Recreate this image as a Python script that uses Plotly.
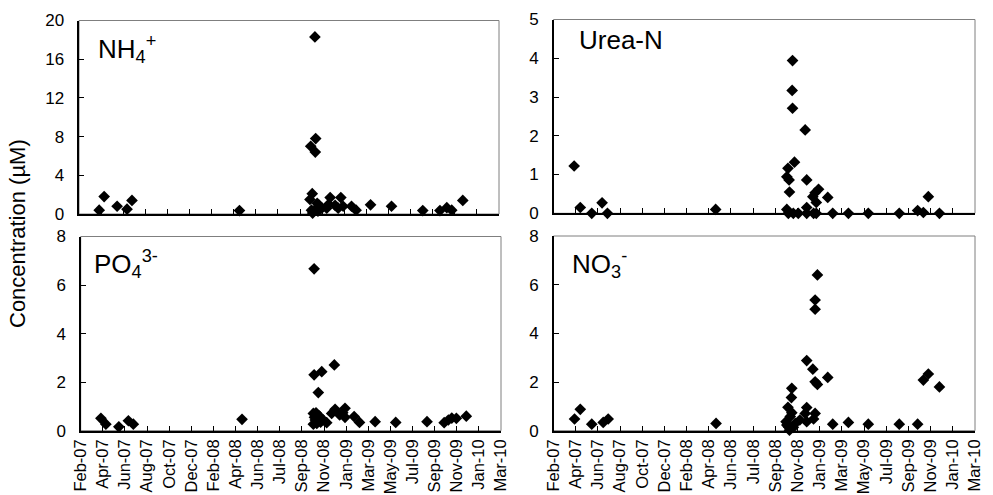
import plotly.graph_objects as go
import pandas as pd

# ---------------- data ----------------
TICK_LABELS = ["Feb-07", "Apr-07", "Jun-07", "Aug-07", "Oct-07", "Dec-07", "Feb-08",
               "Apr-08", "Jun-08", "Jul-08", "Sep-08", "Nov-08", "Jan-09", "Mar-09",
               "May-09", "Jul-09", "Sep-09", "Nov-09", "Jan-10", "Mar-10"]
AXIS_START = "2007-02-24"
TICK_STEP_DAYS = 58

nh4_dates = ["2007-04-18", "2007-05-01", "2007-06-04", "2007-06-30", "2007-07-13", "2008-04-20",
             "2008-11-04", "2008-11-06", "2008-10-24", "2008-11-05", "2008-10-28", "2008-10-22",
             "2008-11-10", "2008-12-14", "2009-01-11", "2008-12-27", "2009-02-08", "2009-02-20",
             "2009-03-30", "2009-05-24", "2009-08-14", "2009-09-28", "2009-10-16", "2009-10-29",
             "2009-11-27", "2008-10-26", "2008-11-03", "2008-11-22", "2008-12-05", "2009-01-04",
             "2008-10-29", "2008-11-12", "2009-01-17", "2008-11-15", "2008-12-10"]
nh4_values = [0.4, 1.8, 0.8, 0.5, 1.4, 0.35,
              18.3, 7.8, 7.0, 6.4, 2.1, 1.5,
              1.1, 1.7, 1.7, 0.9, 0.8, 0.4,
              0.95, 0.8, 0.35, 0.35, 0.65, 0.4,
              1.4, 0.4, 0.35, 0.6, 0.6, 0.6,
              0.1, 0.3, 0.8, 0.9, 1.0]

urea_dates = ["2007-04-19", "2007-05-05", "2007-06-04", "2007-07-01", "2007-07-15", "2008-04-23",
              "2008-11-10", "2008-11-09", "2008-11-10", "2008-12-13", "2008-11-15", "2008-10-29",
              "2008-10-26", "2008-11-01", "2008-11-02", "2008-12-17", "2009-01-17", "2009-01-08",
              "2009-01-02", "2009-01-11", "2008-12-17", "2009-02-10", "2008-10-26",
              "2008-10-30", "2008-11-12", "2008-11-25", "2008-12-17", "2009-01-04", "2009-01-11",
              "2009-02-23", "2009-04-05", "2009-05-27", "2009-08-16", "2009-10-03", "2009-10-18",
              "2009-10-31", "2009-11-29"]
urea_values = [1.22, 0.15, 0.0, 0.27, 0.0, 0.1,
               3.94, 3.17, 2.71, 2.15, 1.32, 1.16,
               0.94, 0.86, 0.55, 0.86, 0.62, 0.53,
               0.43, 0.28, 0.15, 0.41, 0.1,
               0.0, 0.0, 0.0, 0.0, 0.0, 0.0,
               0.0, 0.0, 0.0, 0.0, 0.07, 0.02,
               0.43, 0.0]

po4_dates = ["2007-04-18", "2007-05-01", "2007-06-04", "2007-06-29", "2007-07-12", "2008-04-22",
             "2008-10-28", "2008-10-28", "2008-11-17", "2008-12-20", "2008-11-08", "2008-10-26",
             "2008-11-02", "2008-10-31", "2008-11-04", "2008-10-26", "2008-11-08", "2008-11-21",
             "2008-11-30", "2008-12-13", "2008-12-22", "2009-01-03", "2009-01-11", "2009-01-17",
             "2009-01-17", "2009-02-10", "2009-02-24", "2009-04-06", "2009-05-30", "2009-08-20",
             "2009-10-04", "2009-10-15", "2009-10-24", "2009-11-05", "2009-12-01",
             "2008-10-29", "2008-11-11", "2008-11-14"]
po4_values = [0.51, 0.27, 0.16, 0.41, 0.27, 0.47,
              6.67, 2.3, 2.43, 2.71, 1.57, 0.71,
              0.74, 0.44, 0.3, 0.27, 0.47, 0.44,
              0.33, 0.71, 0.88, 0.65, 0.74, 0.92,
              0.55, 0.58, 0.34, 0.37, 0.34, 0.37,
              0.33, 0.44, 0.52, 0.51, 0.6,
              0.55, 0.6, 0.35]

no3_dates = ["2007-04-20", "2007-05-05", "2007-06-04", "2007-07-04", "2007-07-17", "2008-04-24",
             "2009-01-14", "2009-01-08", "2009-01-08", "2008-12-17", "2009-01-02", "2009-01-08",
             "2009-01-14", "2009-02-10", "2008-11-08", "2008-11-07", "2008-10-29", "2008-12-17",
             "2008-12-13", "2009-01-08", "2009-01-04", "2008-12-17", "2008-11-29",
             "2008-10-24", "2008-10-26", "2008-10-30", "2008-11-02", "2008-11-12", "2008-11-17",
             "2008-11-04", "2008-11-08",
             "2009-02-23", "2009-04-05", "2009-05-27", "2009-08-16", "2009-10-03", "2009-10-18",
             "2009-10-31", "2009-11-29"]
no3_values = [0.48, 0.88, 0.27, 0.34, 0.48, 0.3,
              6.4, 5.37, 4.99, 2.88, 2.53, 2.01,
              1.9, 2.19, 1.74, 1.36, 0.96, 0.95,
              0.71, 0.71, 0.48, 0.37, 0.44,
              0.37, 0.23, 0.16, 0.02, 0.14, 0.3,
              0.58, 0.74,
              0.27, 0.34, 0.27, 0.27, 0.27, 2.08,
              2.33, 1.8]

panel_labels = ["NH<sub>4</sub><sup>+</sup>", "Urea-N", "PO<sub>4</sub><sup>3-</sup>", "NO<sub>3</sub><sup>-</sup>"]
y_ranges = [(0, 20, 4), (0, 5, 1), (0, 8, 2), (0, 8, 2)]

# ---------------- figure ----------------
FONT = "Liberation Sans, Arial, Helvetica, sans-serif"
W, H = 993, 495

tick_vals = pd.date_range(AXIS_START, periods=len(TICK_LABELS), freq=f"{TICK_STEP_DAYS}D")
x_range = [tick_vals[0], tick_vals[-1]]

# pixel boxes (left, right, top, bottom)
boxes = [(79, 499, 20.5, 214), (553.5, 975, 19.5, 213.3),
         (80.7, 501, 236.5, 430.7), (553.5, 975, 236, 430.7)]

series = [(nh4_dates, nh4_values), (urea_dates, urea_values),
          (po4_dates, po4_values), (no3_dates, no3_values)]

fig = go.Figure()
label_pos = [(0.04, 0.955), (0.055, 0.98), (0.028, 0.96), (0.038, 0.96)]

for i, ((d, v), box, yr) in enumerate(zip(series, boxes, y_ranges)):
    n = "" if i == 0 else str(i + 1)
    xa, ya = "x" + n, "y" + n
    fig.add_trace(go.Scatter(x=pd.to_datetime(d), y=v, mode="markers", xaxis=xa, yaxis=ya,
                             marker=dict(symbol="diamond", size=9, color="black",
                                         line=dict(width=0)),
                             cliponaxis=False, showlegend=False, hoverinfo="x+y"))
    l, r, t, b = box
    xdom = [l / W, r / W]
    ydom = [1 - b / H, 1 - t / H]
    bottom_row = i >= 2
    fig.layout["xaxis" + n] = dict(
        domain=xdom, anchor=ya, range=x_range, type="date", automargin=False,
        tickmode="array", tickvals=tick_vals, ticktext=TICK_LABELS,
        showticklabels=bottom_row, tickangle=-90, ticklabelstandoff=0,
        ticks="inside", ticklen=5, tickwidth=1, tickcolor="black",
        showline=True, linecolor="black", linewidth=2, mirror=False,
        showgrid=False, zeroline=False,
        tickfont=dict(family=FONT, size=16.5, color="black"))
    fig.layout["yaxis" + n] = dict(
        domain=ydom, anchor=xa, range=[yr[0], yr[1]], automargin=False,
        tickmode="linear", tick0=yr[0], dtick=yr[2], ticksuffix="\u00a0\u00a0",
        ticks="inside", ticklen=5, tickwidth=1, tickcolor="black",
        showline=True, linecolor="black", linewidth=2, mirror=False,
        showgrid=False, zeroline=False,
        tickfont=dict(family=FONT, size=17, color="black"))
    # gray frame (top/right edges)
    fig.add_shape(type="rect", xref=xa + " domain", yref=ya + " domain",
                  x0=0, x1=1, y0=0, y1=1, line=dict(color="#7f7f7f", width=1),
                  layer="below")
    lx, ly = label_pos[i]
    fig.add_annotation(text=panel_labels[i], xref=xa + " domain", yref=ya + " domain",
                       x=lx, y=ly, xanchor="left", yanchor="top", showarrow=False,
                       font=dict(family=FONT, size=26, color="black"))

fig.add_annotation(text="Concentration (\u00b5M)", xref="paper", yref="paper",
                   x=18 / W, y=1 - 234 / H, xanchor="center", yanchor="middle",
                   textangle=-90, showarrow=False,
                   font=dict(family=FONT, size=22, color="black"))

fig.update_layout(width=W, height=H, margin=dict(l=0, r=0, t=0, b=0, autoexpand=False),
                  paper_bgcolor="white", plot_bgcolor="white",
                  font=dict(family=FONT, color="black"))

fig.write_html("out.html")
